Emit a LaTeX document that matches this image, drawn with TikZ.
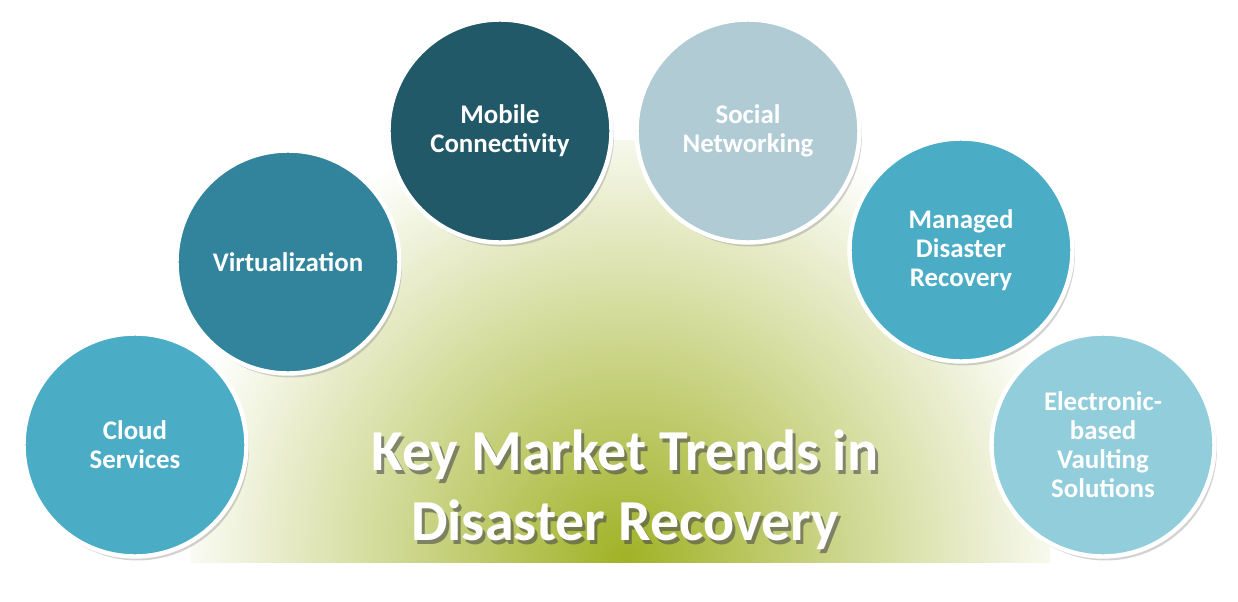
\documentclass[tikz,border=0pt]{standalone}
\usepackage{fontspec}
\setmainfont{Carlito}
\usetikzlibrary{shadows}
\definecolor{cloudblue}{HTML}{4BACC6}
\definecolor{virtblue}{HTML}{31849B}
\definecolor{mobileblue}{HTML}{215968}
\definecolor{socialblue}{HTML}{B0CBD4}
\definecolor{elecblue}{HTML}{92CDDC}
\definecolor{olivecore}{HTML}{A0B226}
\tikzset{
  trend/.style={circle, draw=white, line width=2.5pt, minimum size=4.46cm,
    align=center, text=white, font=\bfseries\fontsize{15.3}{16.5}\selectfont,
    drop shadow={shadow xshift=0.5mm, shadow yshift=-0.8mm, opacity=0.35}},
  titletext/.style={align=center, text=white, font=\bfseries\fontsize{33}{40}\selectfont}
}
\begin{document}
\begin{tikzpicture}[x=0.02cm,y=-0.02cm]
  \useasboundingbox (0,0) rectangle (1238,602);
  % background glow
  \begin{scope}
    \clip (190,140) rectangle (1050,562);
    \shade[inner color=olivecore, outer color=white] (625,560) circle (460);
  \end{scope}
  % trend circles
  \node[trend, fill=cloudblue] (cloud) at (135,445) {Cloud\\Services};
  \node[trend, fill=virtblue] (virt) at (288,262) {Virtualization};
  \node[trend, fill=mobileblue] (mobile) at (500,131) {Mobile\\Connectivity};
  \node[trend, fill=socialblue] (social) at (748,131) {Social\\Networking};
  \node[trend, fill=cloudblue] (managed) at (961,250) {Managed\\Disaster\\Recovery};
  \node[trend, fill=elecblue] (elec) at (1103,445) {Electronic-\\based\\Vaulting\\Solutions};
  % title
  \node[titletext, text=black!70, opacity=0.6] at (628,494) {Key Market Trends in\\Disaster Recovery};
  \node[titletext] (title) at (625,490) {Key Market Trends in\\Disaster Recovery};
\end{tikzpicture}
\end{document}
